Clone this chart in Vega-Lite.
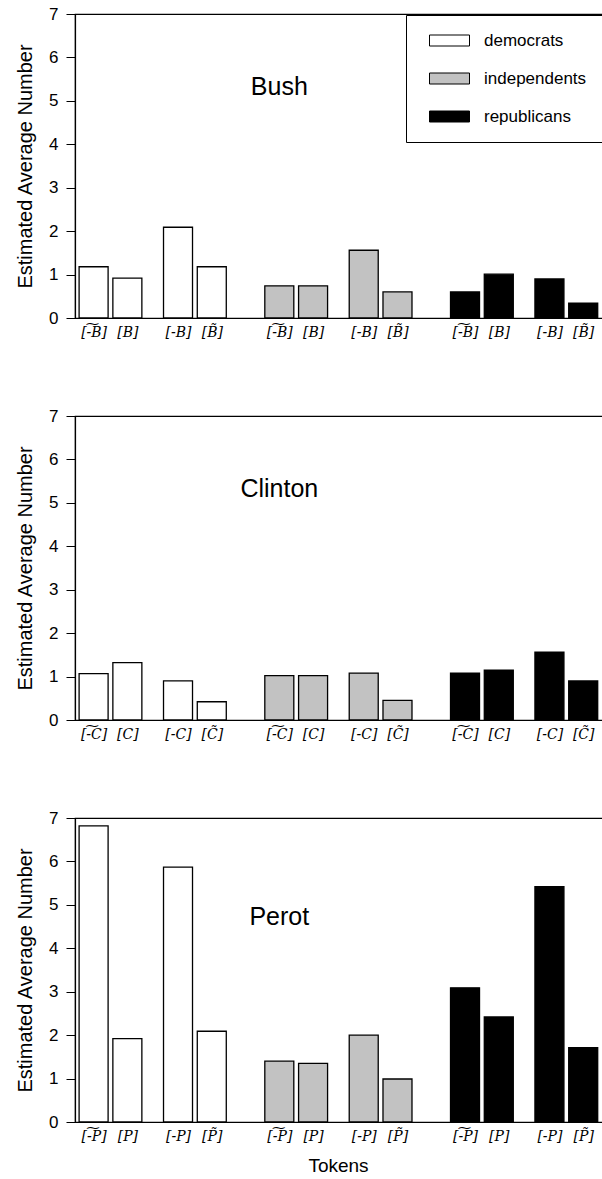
{
  "$schema": "https://vega.github.io/schema/vega-lite/v6.json",
  "padding": {"left": 14, "top": 4, "right": 0, "bottom": 0},
  "background": "white",
  "datasets": {
    "bars": [
      {"candidate": "Bush", "party": "democrats", "key": "D1", "value": 1.18},
      {"candidate": "Bush", "party": "democrats", "key": "D2", "value": 0.92},
      {"candidate": "Bush", "party": "democrats", "key": "D3", "value": 2.09},
      {"candidate": "Bush", "party": "democrats", "key": "D4", "value": 1.18},
      {"candidate": "Bush", "party": "independents", "key": "I1", "value": 0.74},
      {"candidate": "Bush", "party": "independents", "key": "I2", "value": 0.74},
      {"candidate": "Bush", "party": "independents", "key": "I3", "value": 1.56},
      {"candidate": "Bush", "party": "independents", "key": "I4", "value": 0.6},
      {"candidate": "Bush", "party": "republicans", "key": "R1", "value": 0.6},
      {"candidate": "Bush", "party": "republicans", "key": "R2", "value": 1.01},
      {"candidate": "Bush", "party": "republicans", "key": "R3", "value": 0.9},
      {"candidate": "Bush", "party": "republicans", "key": "R4", "value": 0.34},
      {"candidate": "Clinton", "party": "democrats", "key": "D1", "value": 1.07},
      {"candidate": "Clinton", "party": "democrats", "key": "D2", "value": 1.32},
      {"candidate": "Clinton", "party": "democrats", "key": "D3", "value": 0.9},
      {"candidate": "Clinton", "party": "democrats", "key": "D4", "value": 0.42},
      {"candidate": "Clinton", "party": "independents", "key": "I1", "value": 1.02},
      {"candidate": "Clinton", "party": "independents", "key": "I2", "value": 1.02},
      {"candidate": "Clinton", "party": "independents", "key": "I3", "value": 1.08},
      {"candidate": "Clinton", "party": "independents", "key": "I4", "value": 0.45},
      {"candidate": "Clinton", "party": "republicans", "key": "R1", "value": 1.08},
      {"candidate": "Clinton", "party": "republicans", "key": "R2", "value": 1.15},
      {"candidate": "Clinton", "party": "republicans", "key": "R3", "value": 1.56},
      {"candidate": "Clinton", "party": "republicans", "key": "R4", "value": 0.9},
      {"candidate": "Perot", "party": "democrats", "key": "D1", "value": 6.82},
      {"candidate": "Perot", "party": "democrats", "key": "D2", "value": 1.92},
      {"candidate": "Perot", "party": "democrats", "key": "D3", "value": 5.87},
      {"candidate": "Perot", "party": "democrats", "key": "D4", "value": 2.09},
      {"candidate": "Perot", "party": "independents", "key": "I1", "value": 1.4},
      {"candidate": "Perot", "party": "independents", "key": "I2", "value": 1.35},
      {"candidate": "Perot", "party": "independents", "key": "I3", "value": 2.0},
      {"candidate": "Perot", "party": "independents", "key": "I4", "value": 0.99},
      {"candidate": "Perot", "party": "republicans", "key": "R1", "value": 3.09},
      {"candidate": "Perot", "party": "republicans", "key": "R2", "value": 2.42},
      {"candidate": "Perot", "party": "republicans", "key": "R3", "value": 5.42},
      {"candidate": "Perot", "party": "republicans", "key": "R4", "value": 1.71}
    ]
  },
  "config": {
    "font": "Liberation Sans",
    "view": {"stroke": "black", "strokeWidth": 1.2},
    "axis": {"domainColor": "black", "domainWidth": 1.2, "tickColor": "black", "labelColor": "black", "titleColor": "black", "grid": false, "titleFontWeight": "normal"},
    "axisX": {"ticks": false, "labelAngle": 0, "labelFont": "DejaVu Serif", "labelFontStyle": "italic", "labelFontSize": 14, "labelPadding": 7, "titleFontSize": 19, "titlePadding": 13},
    "axisY": {"tickSize": 9, "labelPadding": 8, "labelFontSize": 17, "titleFontSize": 20, "titlePadding": 13}
  },
  "resolve": {"legend": {"fill": "independent"}},
  "spacing": 66,
  "vconcat": [
    {
      "width": 540,
      "height": 304,
      "layer": [
        {
          "data": {"name": "bars"},
          "transform": [{"filter": "datum.candidate == 'Bush'"}],
          "mark": {"type": "bar", "width": 29, "stroke": "black", "strokeWidth": 1.3},
          "encoding": {
            "x": {"field": "key", "type": "ordinal",
              "scale": {"type": "point", "padding": 0, "range": [18.6, 508.2], "domain": ["D1","s1","D2","s3","s4","D3","s6","D4","s8","s9","s10","I1","s12","I2","s14","s15","I3","s17","I4","s19","s20","s21","R1","s23","R2","s25","s26","R3","s28","R4"]},
              "axis": {"title": null, "values": ["D1","D2","D3","D4","I1","I2","I3","I4","R1","R2","R3","R4"],
                "labelExpr": "substring(datum.value,1)=='1' ? '[-\u0360B]' : substring(datum.value,1)=='2' ? '[B]' : substring(datum.value,1)=='3' ? '[-B]' : '[B\u0303]'"}},
            "y": {"field": "value", "type": "quantitative", "scale": {"domain": [0, 7]},
              "axis": {"title": "Estimated Average Number", "values": [0,1,2,3,4,5,6,7]}},
            "fill": {"field": "party", "type": "nominal",
              "scale": {"domain": ["democrats","independents","republicans"], "range": ["white","#c2c2c2","black"]},
              "legend": {"orient": "none", "legendX": 331, "legendY": 1, "title": null, "strokeColor": "black", "fillColor": "white", "padding": 17, "rowPadding": 20,
                "symbolType": "M-1,-2.75L19,-2.75L19,2.75L-1,2.75Z", "symbolSize": 16, "symbolStrokeColor": "black", "symbolStrokeWidth": 1,
                "labelFontSize": 17, "labelOffset": 44, "labelColor": "black", "labelFont": "Liberation Sans"}}
          }
        },
        {
          "data": {"values": [{"name": "Bush"}]},
          "mark": {"type": "text", "fontSize": 25, "font": "Liberation Sans", "color": "black", "baseline": "middle"},
          "encoding": {
            "x": {"datum": "I1", "type": "ordinal"},
            "y": {"datum": 5.33, "type": "quantitative"},
            "text": {"field": "name"}
          }
        }
      ]
    },
    {
      "width": 540,
      "height": 304,
      "layer": [
        {
          "data": {"name": "bars"},
          "transform": [{"filter": "datum.candidate == 'Clinton'"}],
          "mark": {"type": "bar", "width": 29, "stroke": "black", "strokeWidth": 1.3},
          "encoding": {
            "x": {"field": "key", "type": "ordinal",
              "scale": {"type": "point", "padding": 0, "range": [18.6, 508.2], "domain": ["D1","s1","D2","s3","s4","D3","s6","D4","s8","s9","s10","I1","s12","I2","s14","s15","I3","s17","I4","s19","s20","s21","R1","s23","R2","s25","s26","R3","s28","R4"]},
              "axis": {"title": null, "values": ["D1","D2","D3","D4","I1","I2","I3","I4","R1","R2","R3","R4"],
                "labelExpr": "substring(datum.value,1)=='1' ? '[-\u0360C]' : substring(datum.value,1)=='2' ? '[C]' : substring(datum.value,1)=='3' ? '[-C]' : '[C\u0303]'"}},
            "y": {"field": "value", "type": "quantitative", "scale": {"domain": [0, 7]},
              "axis": {"title": "Estimated Average Number", "values": [0,1,2,3,4,5,6,7]}},
            "fill": {"field": "party", "type": "nominal",
              "scale": {"domain": ["democrats","independents","republicans"], "range": ["white","#c2c2c2","black"]},
              "legend": null}
          }
        },
        {
          "data": {"values": [{"name": "Clinton"}]},
          "mark": {"type": "text", "fontSize": 25, "font": "Liberation Sans", "color": "black", "baseline": "middle"},
          "encoding": {
            "x": {"datum": "I1", "type": "ordinal"},
            "y": {"datum": 5.33, "type": "quantitative"},
            "text": {"field": "name"}
          }
        }
      ]
    },
    {
      "width": 540,
      "height": 304,
      "layer": [
        {
          "data": {"name": "bars"},
          "transform": [{"filter": "datum.candidate == 'Perot'"}],
          "mark": {"type": "bar", "width": 29, "stroke": "black", "strokeWidth": 1.3},
          "encoding": {
            "x": {"field": "key", "type": "ordinal",
              "scale": {"type": "point", "padding": 0, "range": [18.6, 508.2], "domain": ["D1","s1","D2","s3","s4","D3","s6","D4","s8","s9","s10","I1","s12","I2","s14","s15","I3","s17","I4","s19","s20","s21","R1","s23","R2","s25","s26","R3","s28","R4"]},
              "axis": {"title": "Tokens", "titleX": 263, "values": ["D1","D2","D3","D4","I1","I2","I3","I4","R1","R2","R3","R4"],
                "labelExpr": "substring(datum.value,1)=='1' ? '[-\u0360P]' : substring(datum.value,1)=='2' ? '[P]' : substring(datum.value,1)=='3' ? '[-P]' : '[P\u0303]'"}},
            "y": {"field": "value", "type": "quantitative", "scale": {"domain": [0, 7]},
              "axis": {"title": "Estimated Average Number", "values": [0,1,2,3,4,5,6,7]}},
            "fill": {"field": "party", "type": "nominal",
              "scale": {"domain": ["democrats","independents","republicans"], "range": ["white","#c2c2c2","black"]},
              "legend": null}
          }
        },
        {
          "data": {"values": [{"name": "Perot"}]},
          "mark": {"type": "text", "fontSize": 25, "font": "Liberation Sans", "color": "black", "baseline": "middle"},
          "encoding": {
            "x": {"datum": "I1", "type": "ordinal"},
            "y": {"datum": 4.72, "type": "quantitative"},
            "text": {"field": "name"}
          }
        }
      ]
    }
  ]
}
